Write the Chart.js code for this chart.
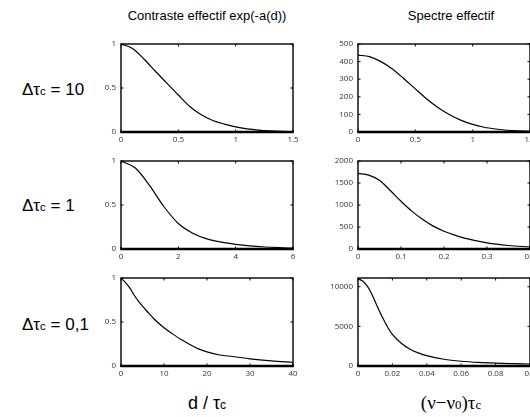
<!DOCTYPE html>
<html>
<head>
<meta charset="utf-8">
<script src="https://cdn.jsdelivr.net/npm/chart.js@4.4.1/dist/chart.umd.min.js"></script>
<style>
html, body { margin: 0; padding: 0; background: #fff; }
body { width: 530px; height: 417px; overflow: hidden; position: relative; font-family: "Liberation Sans", Arial, sans-serif; color: #000; }
.t { position: absolute; white-space: nowrap; transform: translate(-50%, -50%); }
.row { position: absolute; white-space: nowrap; transform: translateY(-50%); font-size: 17px; left: 22px; }
.sub { font-size: 68%; }
.serif { font-family: "Liberation Serif", "Times New Roman", serif; }
canvas { position: absolute; }
</style>
</head>
<body>

<div class="t" style="left:207px; top:15px; font-size:13px;">Contraste effectif exp(-a(d))</div>
<div class="t" style="left:451px; top:15px; font-size:13px;">Spectre effectif</div>

<div class="row" style="top:90px;">&Delta;&tau;<span class="sub">c</span> = 10</div>
<div class="row" style="top:206px;">&Delta;&tau;<span class="sub">c</span> = 1</div>
<div class="row" style="top:325px;">&Delta;&tau;<span class="sub">c</span> = 0,1</div>

<div class="t" style="left:207px; top:403px; font-size:18px;">d / &tau;<span class="sub">c</span></div>
<div class="t serif" style="left:451px; top:403px; font-size:19px;">(&nu;&minus;&nu;<span class="sub">0</span>)&tau;<span class="sub">c</span></div>

<script>
// contraste effectif, d / tau_c
const contrastTicks = [0, 0.5, 1];

const contrast10D = [0, 0.1, 0.2, 0.3, 0.4, 0.5, 0.6, 0.7, 0.8, 0.9, 1.0, 1.1, 1.2, 1.3, 1.4, 1.5];
const contrast10 = [1, 0.95, 0.83, 0.69, 0.555, 0.42, 0.29, 0.195, 0.13, 0.09, 0.058, 0.036, 0.022, 0.013, 0.008, 0.005];
const contrast10XTicks = [0, 0.5, 1, 1.5];

const contrast1D = [0, 0.5, 1, 1.5, 2, 2.5, 3, 3.5, 4, 4.5, 5, 5.5, 6];
const contrast1 = [1, 0.92, 0.72, 0.48, 0.29, 0.18, 0.115, 0.078, 0.053, 0.035, 0.023, 0.015, 0.01];
const contrast1XTicks = [0, 2, 4, 6];

const contrast01D = [0, 1, 2, 3, 4, 5, 6, 8, 10, 12, 14, 16, 18, 20, 23, 26, 30, 35, 40];
const contrast01 = [1, 0.95, 0.89, 0.81, 0.74, 0.68, 0.625, 0.52, 0.435, 0.365, 0.3, 0.245, 0.195, 0.16, 0.125, 0.108, 0.082, 0.058, 0.04];
const contrast01XTicks = [0, 10, 20, 30, 40];

// spectre effectif, (nu - nu0) tau_c
const spectrum10Nu = [0, 0.1, 0.2, 0.3, 0.4, 0.5, 0.6, 0.7, 0.8, 0.9, 1.0, 1.1, 1.2, 1.3, 1.4, 1.5];
const spectrum10 = [437, 428, 400, 358, 303, 245, 188, 138, 98, 66, 43, 27, 17, 10, 6, 4];
const spectrum10XTicks = [0, 0.5, 1, 1.5];
const spectrum10YTicks = [0, 100, 200, 300, 400, 500];

const spectrum1Nu = [0, 0.025, 0.05, 0.075, 0.1, 0.125, 0.15, 0.175, 0.2, 0.225, 0.25, 0.3, 0.35, 0.4];
const spectrum1 = [1718, 1680, 1560, 1330, 1084, 860, 675, 520, 405, 315, 240, 140, 80, 46];
const spectrum1XTicks = [0, 0.1, 0.2, 0.3, 0.4];
const spectrum1YTicks = [0, 500, 1000, 1500, 2000];

const spectrum01Nu = [0, 0.0025, 0.005, 0.0075, 0.01, 0.0125, 0.015, 0.0175, 0.02, 0.025, 0.03, 0.035, 0.04, 0.05, 0.06, 0.07, 0.08, 0.09, 0.1];
const spectrum01 = [11000, 10750, 10200, 9300, 8100, 6900, 5800, 4800, 4000, 2900, 2150, 1650, 1300, 850, 600, 450, 360, 300, 250];
const spectrum01XTicks = [0, 0.02, 0.04, 0.06, 0.08, 0.1];
const spectrum01YTicks = [0, 5000, 10000];
const spectrum01YMax = 11100;

const AXIS_W = 34, AXIS_H = 14, PAD_T = 6, PAD_R = 10;
const BOX_W = 172, BOX_H = 88;
const TICK_LEN = 2.5;

// matlab-like box with inward ticks on all sides
const boxPlugin = {
    id: 'box',
    afterDraw(chart) {
        const ctx = chart.ctx;
        const a = chart.chartArea;
        const sx = chart.scales.x, sy = chart.scales.y;
        ctx.save();
        ctx.strokeStyle = '#000';
        ctx.lineWidth = 1.4;
        ctx.strokeRect(a.left, a.top, a.right - a.left, a.bottom - a.top);
        ctx.lineWidth = 2.4;
        ctx.beginPath();
        ctx.moveTo(a.left - 0.7, a.bottom);
        ctx.lineTo(a.right + 0.7, a.bottom);
        ctx.stroke();
        ctx.lineWidth = 1;
        ctx.beginPath();
        sx.ticks.forEach(function(t) {
            var p = sx.getPixelForValue(t.value);
            ctx.moveTo(p, a.bottom); ctx.lineTo(p, a.bottom - TICK_LEN);
            ctx.moveTo(p, a.top); ctx.lineTo(p, a.top + TICK_LEN);
        });
        sy.ticks.forEach(function(t) {
            var p = sy.getPixelForValue(t.value);
            ctx.moveTo(a.left, p); ctx.lineTo(a.left + TICK_LEN, p);
            ctx.moveTo(a.right, p); ctx.lineTo(a.right - TICK_LEN, p);
        });
        ctx.stroke();
        ctx.restore();
    }
};

function tickFont() {
    return { family: '"Open Sans", "DejaVu Sans", sans-serif', size: 8 };
}

function makePanel(left, top, xs, ys, xTicks, yTicks, yMax) {
    var cv = document.createElement('canvas');
    cv.width = AXIS_W + BOX_W + PAD_R;
    cv.height = PAD_T + BOX_H + AXIS_H;
    cv.style.left = (left - AXIS_W) + 'px';
    cv.style.top = (top - PAD_T) + 'px';
    document.body.appendChild(cv);

    new Chart(cv.getContext('2d'), {
        type: 'line',
        data: {
            datasets: [{
                data: xs.map(function(x, i) { return { x: x, y: ys[i] }; }),
                borderColor: '#000',
                borderWidth: 1.2,
                pointRadius: 0,
                fill: false,
                cubicInterpolationMode: 'monotone'
            }]
        },
        options: {
            responsive: false,
            animation: false,
            events: [],
            layout: { padding: { top: PAD_T, right: PAD_R, left: 0, bottom: 0 } },
            plugins: { legend: { display: false }, tooltip: { enabled: false } },
            scales: {
                x: {
                    type: 'linear',
                    min: xTicks[0],
                    max: xTicks[xTicks.length - 1],
                    afterBuildTicks: function(s) { s.ticks = xTicks.map(function(v) { return { value: v }; }); },
                    afterFit: function(s) { s.height = AXIS_H; s.paddingLeft = 0; s.paddingRight = 0; },
                    grid: { display: false, drawTicks: false },
                    border: { display: false },
                    ticks: { padding: 3, maxRotation: 0, autoSkip: false, color: '#333', font: tickFont(), callback: function(v) { return String(v); } }
                },
                y: {
                    type: 'linear',
                    min: yTicks[0],
                    max: yMax,
                    afterBuildTicks: function(s) { s.ticks = yTicks.map(function(v) { return { value: v }; }); },
                    afterFit: function(s) { s.width = AXIS_W; s.paddingTop = 0; s.paddingBottom = 0; },
                    grid: { display: false, drawTicks: false },
                    border: { display: false },
                    ticks: { padding: 5, autoSkip: false, color: '#333', font: tickFont(), callback: function(v) { return String(v); } }
                }
            }
        },
        plugins: [boxPlugin]
    });
}

const LEFT_X = 121, RIGHT_X = 358;
const ROW_Y = [44, 161, 278];

makePanel(LEFT_X, ROW_Y[0], contrast10D, contrast10, contrast10XTicks, contrastTicks, 1);
makePanel(LEFT_X, ROW_Y[1], contrast1D, contrast1, contrast1XTicks, contrastTicks, 1);
makePanel(LEFT_X, ROW_Y[2], contrast01D, contrast01, contrast01XTicks, contrastTicks, 1);

makePanel(RIGHT_X, ROW_Y[0], spectrum10Nu, spectrum10, spectrum10XTicks, spectrum10YTicks, 500);
makePanel(RIGHT_X, ROW_Y[1], spectrum1Nu, spectrum1, spectrum1XTicks, spectrum1YTicks, 2000);
makePanel(RIGHT_X, ROW_Y[2], spectrum01Nu, spectrum01, spectrum01XTicks, spectrum01YTicks, spectrum01YMax);
</script>
</body>
</html>
